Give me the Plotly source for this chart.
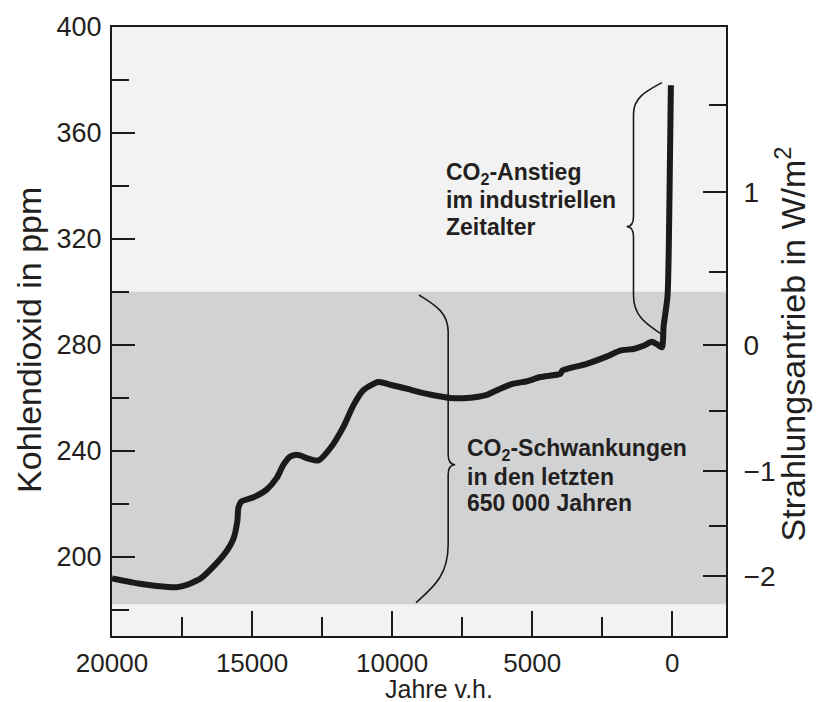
import math
import plotly.graph_objects as go

# ---------------- data ----------------
years_bp = [20000, 19000, 18000, 17700, 17300, 17100, 16850, 16400, 15900, 15670,
            15525, 15490, 15370, 14950, 14480, 14120, 13880, 13640, 13460, 13290,
            13050, 12630, 12210, 11740, 11380, 11030, 10490, 10070, 9480, 9000,
            8520, 7930, 7330, 6620, 6140, 5670, 5190, 4710, 4000, 3920,
            3760, 3050, 2330, 1860, 1380, 1030, 730, 550, 370, 310,
            170, 100, 50]
co2_ppm = [191.7, 189.7, 188.5, 188.4, 189.4, 190.3, 191.6, 196.0, 202.2, 206.6,
           213.5, 218.4, 220.9, 222.4, 225.3, 229.7, 234.7, 237.8, 238.4, 238.2,
           237.2, 236.3, 240.9, 249.0, 257.2, 262.8, 265.9, 264.9, 263.4, 262.0,
           260.9, 259.9, 259.9, 261.1, 263.4, 265.3, 266.2, 267.8, 269.0, 270.3,
           270.9, 272.8, 275.6, 277.8, 278.4, 279.6, 281.1, 280.2, 279.0, 287.0,
           298.4, 335.8, 378.0]

x_major = [20000, 15000, 10000, 5000, 0]
x_major_text = ["20000", "15000", "10000", "5000", "0"]
x_minor = [17500, 12500, 7500, 2500]

y_major = [400, 360, 320, 280, 240, 200]
y_minor = [380, 340, 300, 260, 220, 180]

forcing_major = [1, 0, -1, -2]
forcing_major_text = ["1", "0", "\u22121", "\u22122"]
forcing_minor = [1.5, 0.5, -0.5, -1.5]
co2_ref = 280.0  # pre-industrial reference for forcing scale

glacial_range = (182, 300)      # CO2 range of the last 650 000 years
industrial_range = (284, 379)   # industrial-era rise

# --------------- helpers ---------------
def forcing_to_ppm(f):
    return co2_ref * math.exp(f / 5.35)

def brace_path(x_end_top, x_end_bot, x_spine, x_tip, y_top, y_bot, y_cusp,
               r_top, r_bot, dc):
    p = []
    p.append(f"M {x_end_top},{y_top}")
    p.append(f"C {x_end_top + 0.5*(x_spine-x_end_top)},{y_top - 0.25*r_top} "
             f"{x_spine},{y_top - 0.45*r_top} {x_spine},{y_top - r_top}")
    p.append(f"L {x_spine},{y_cusp + dc}")
    p.append(f"Q {x_spine},{y_cusp} {x_tip},{y_cusp}")
    p.append(f"Q {x_spine},{y_cusp} {x_spine},{y_cusp - dc}")
    p.append(f"L {x_spine},{y_bot + r_bot}")
    p.append(f"C {x_spine},{y_bot + 0.45*r_bot} "
             f"{x_end_bot + 0.5*(x_spine-x_end_bot)},{y_bot + 0.25*r_bot} {x_end_bot},{y_bot}")
    return " ".join(p)

FONT = "Liberation Sans, Arial, Helvetica, sans-serif"
TXT = "#231f20"

fig = go.Figure()

fig.add_trace(go.Scatter(
    x=years_bp, y=co2_ppm, mode="lines",
    line=dict(color="#1a1a1a", width=6, shape="spline", smoothing=0.6),
    hoverinfo="skip", showlegend=False))

fig.add_trace(go.Scatter(
    x=years_bp, y=co2_ppm, mode="lines", yaxis="y2",
    line=dict(color="rgba(0,0,0,0)", width=0),
    hoverinfo="skip", showlegend=False))

shapes = [
    dict(type="rect", xref="paper", x0=0, x1=1, yref="y",
         y0=glacial_range[0], y1=glacial_range[1],
         fillcolor="#d1d2d4", line=dict(width=0), layer="below"),
    dict(type="path", xref="x", yref="y", layer="below",
         path=brace_path(9040, 9150, 8000, 7750,
                         glacial_range[1] - 1.2, glacial_range[0] + 0.6, 234.7,
                         14.0, 22.0, 3.8),
         line=dict(color="#1a1a1a", width=1.6)),
    dict(type="path", xref="x", yref="y", layer="below",
         path=brace_path(368, 393, 1385, 1627,
                         industrial_range[1], industrial_range[0], 324.6,
                         11.9, 14.6, 3.8),
         line=dict(color="#1a1a1a", width=1.6)),
]

ann = []
upper_lines = ["<b>CO<sub>2</sub>-Anstieg</b>", "<b>im industriellen</b>", "<b>Zeitalter</b>"]
upper_y = [344.8, 334.7, 324.4]
for t, yv in zip(upper_lines, upper_y):
    ann.append(dict(x=8100, y=yv, xref="x", yref="y", text=t, showarrow=False,
                    xanchor="left", yanchor="middle", borderpad=0,
                    font=dict(family=FONT, size=23, color=TXT)))
lower_lines = ["<b>CO<sub>2</sub>-Schwankungen</b>", "<b>in den letzten</b>", "<b>650 000 Jahren</b>"]
lower_y = [240.6, 230.1, 220.2]
for t, yv in zip(lower_lines, lower_y):
    ann.append(dict(x=7350, y=yv, xref="x", yref="y", text=t, showarrow=False,
                    xanchor="left", yanchor="middle", borderpad=0,
                    font=dict(family=FONT, size=23, color=TXT)))

# axis titles
ann.append(dict(x=-0.1352, y=0.4862, xref="paper", yref="paper",
                text="Kohlendioxid in ppm", textangle=-90, showarrow=False,
                xanchor="center", yanchor="middle",
                font=dict(family=FONT, size=34, color=TXT)))
ann.append(dict(x=1.105, y=0.4796, xref="paper", yref="paper",
                text="Strahlungsantrieb in W/m<sup>2</sup>", textangle=-90, showarrow=False,
                xanchor="center", yanchor="middle",
                font=dict(family=FONT, size=34, color=TXT)))
ann.append(dict(x=0.5318, y=-0.0863, xref="paper", yref="paper",
                text="Jahre v.h.", showarrow=False, borderpad=0,
                xanchor="center", yanchor="middle",
                font=dict(family=FONT, size=25, color=TXT)))

fig.update_layout(
    width=823, height=702,
    margin=dict(l=112, r=97, t=22, b=66),
    paper_bgcolor="white", plot_bgcolor="#f2f2f2",
    font=dict(family=FONT, color=TXT),
    shapes=shapes, annotations=ann, showlegend=False,
    xaxis=dict(range=[20000, -1917], showgrid=False, zeroline=False,
               showline=True, linecolor="#1a1a1a", linewidth=2, mirror=True,
               ticks="inside", tickmode="array", tickvals=x_major, ticktext=x_major_text,
               ticklen=25, tickwidth=2, tickcolor="#1a1a1a",
               tickfont=dict(size=26, family=FONT, color=TXT),
               ticklabelstandoff=3,
               minor=dict(tickmode="array", tickvals=x_minor, ticks="inside",
                          ticklen=19, tickwidth=2, tickcolor="#1a1a1a")),
    yaxis=dict(range=[170, 400], showgrid=False, zeroline=False,
               showline=True, linecolor="#1a1a1a", linewidth=2, mirror=True,
               ticks="inside", tickmode="array", tickvals=y_major,
               ticktext=[str(v) for v in y_major],
               ticklen=23, tickwidth=2, tickcolor="#1a1a1a",
               tickfont=dict(size=27, family=FONT, color=TXT),
               ticklabelstandoff=3,
               minor=dict(tickmode="array", tickvals=y_minor, ticks="inside",
                          ticklen=17, tickwidth=2, tickcolor="#1a1a1a")),
    yaxis2=dict(range=[170, 400], overlaying="y", side="right", anchor="x",
                showgrid=False, zeroline=False, showline=True,
                linecolor="#1a1a1a", linewidth=2,
                ticks="inside", tickmode="array",
                tickvals=[forcing_to_ppm(f) for f in forcing_major],
                ticktext=forcing_major_text,
                ticklen=23, tickwidth=2, tickcolor="#1a1a1a",
                tickfont=dict(size=28, family=FONT, color=TXT),
                ticklabelstandoff=10,
                minor=dict(tickmode="array",
                           tickvals=[forcing_to_ppm(f) for f in forcing_minor],
                           ticks="inside", ticklen=17, tickwidth=2, tickcolor="#1a1a1a")),
)

fig.write_html("out.html")
